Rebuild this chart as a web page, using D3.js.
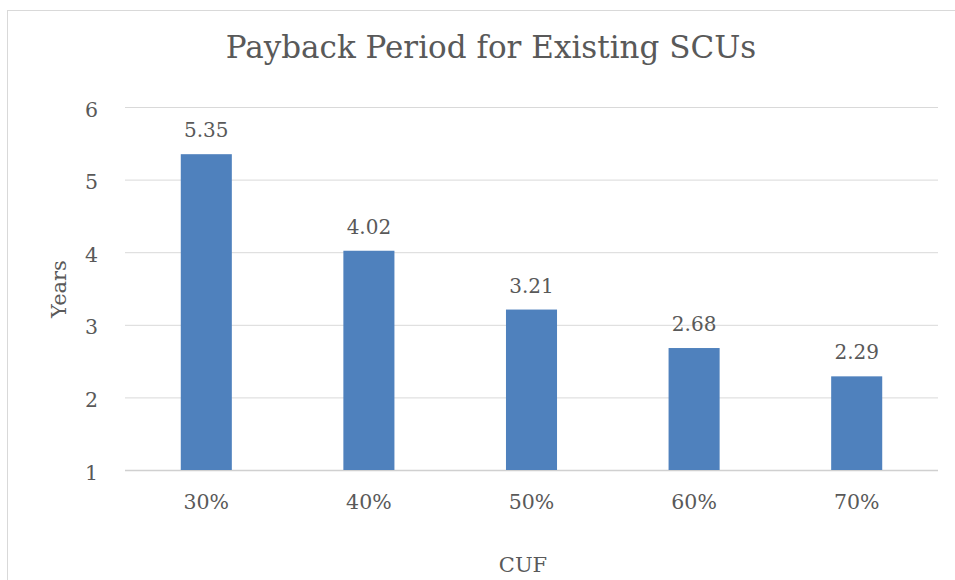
<!DOCTYPE html>
<html><head><meta charset="utf-8">
<script src="https://cdn.jsdelivr.net/npm/d3@7"></script>
<style>body{margin:0;background:#fff}svg{display:block}text{font-family:"DejaVu Serif",serif;fill:#595959}</style>
</head><body><svg id="c" width="955" height="580"></svg>
<script>
const categories = ["30%","40%","50%","60%","70%"];
const values = [5.35,4.02,3.21,2.68,2.29];
const labels = ["5.35","4.02","3.21","2.68","2.29"];
const yTicks = [1,2,3,4,5,6];
const title = "Payback Period for Existing SCUs";
const xTitle = "CUF";
const yTitle = "Years";

const svg = d3.select("#c");
svg.append("rect").attr("x",7.5).attr("y",10.5).attr("width",1000).attr("height",1000)
  .attr("fill","none").attr("stroke","#d9d9d9");
const L=125,R=938,T=107,B=470;
const x = d3.scaleBand().domain(categories).range([L,R]).paddingInner(0.686).paddingOuter(0.343);
const y = d3.scaleLinear().domain([1,6]).range([B,T]);

svg.append("g").selectAll("line").data(yTicks).join("line")
  .attr("x1",L).attr("x2",R).attr("y1",d=>y(d)+0.5).attr("y2",d=>y(d)+0.5)
  .attr("stroke",d=>d===1?"#d0d0d0":"#d9d9d9").attr("stroke-width",d=>d===1?1.5:1);

svg.append("g").selectAll("rect").data(values).join("rect")
  .attr("x",(d,i)=>x(categories[i])).attr("width",x.bandwidth())
  .attr("y",d=>y(d)).attr("height",d=>y(1)-y(d)).attr("fill","#4f81bd");

svg.append("g").selectAll("text").data(values).join("text")
  .attr("x",(d,i)=>x(categories[i])+x.bandwidth()/2).attr("y",d=>y(d)-17)
  .attr("text-anchor","middle").attr("font-size",20).text((d,i)=>labels[i]);

svg.append("g").selectAll("text").data(yTicks).join("text")
  .attr("x",98).attr("y",d=>y(d)+9.5).attr("text-anchor","end").attr("font-size",20.5).text(d=>d);

svg.append("g").selectAll("text").data(categories).join("text")
  .attr("x",d=>x(d)+x.bandwidth()/2).attr("y",509).attr("text-anchor","middle").attr("font-size",20.5).text(d=>d);

svg.append("text").attr("x",491).attr("y",58).attr("text-anchor","middle").attr("font-size",31).text(title);
svg.append("text").attr("x",523).attr("y",572).attr("text-anchor","middle").attr("font-size",21).text(xTitle);
svg.append("text").attr("transform","translate(65.5,289) rotate(-90)").attr("text-anchor","middle").attr("font-size",21).text(yTitle);
</script></body></html>
